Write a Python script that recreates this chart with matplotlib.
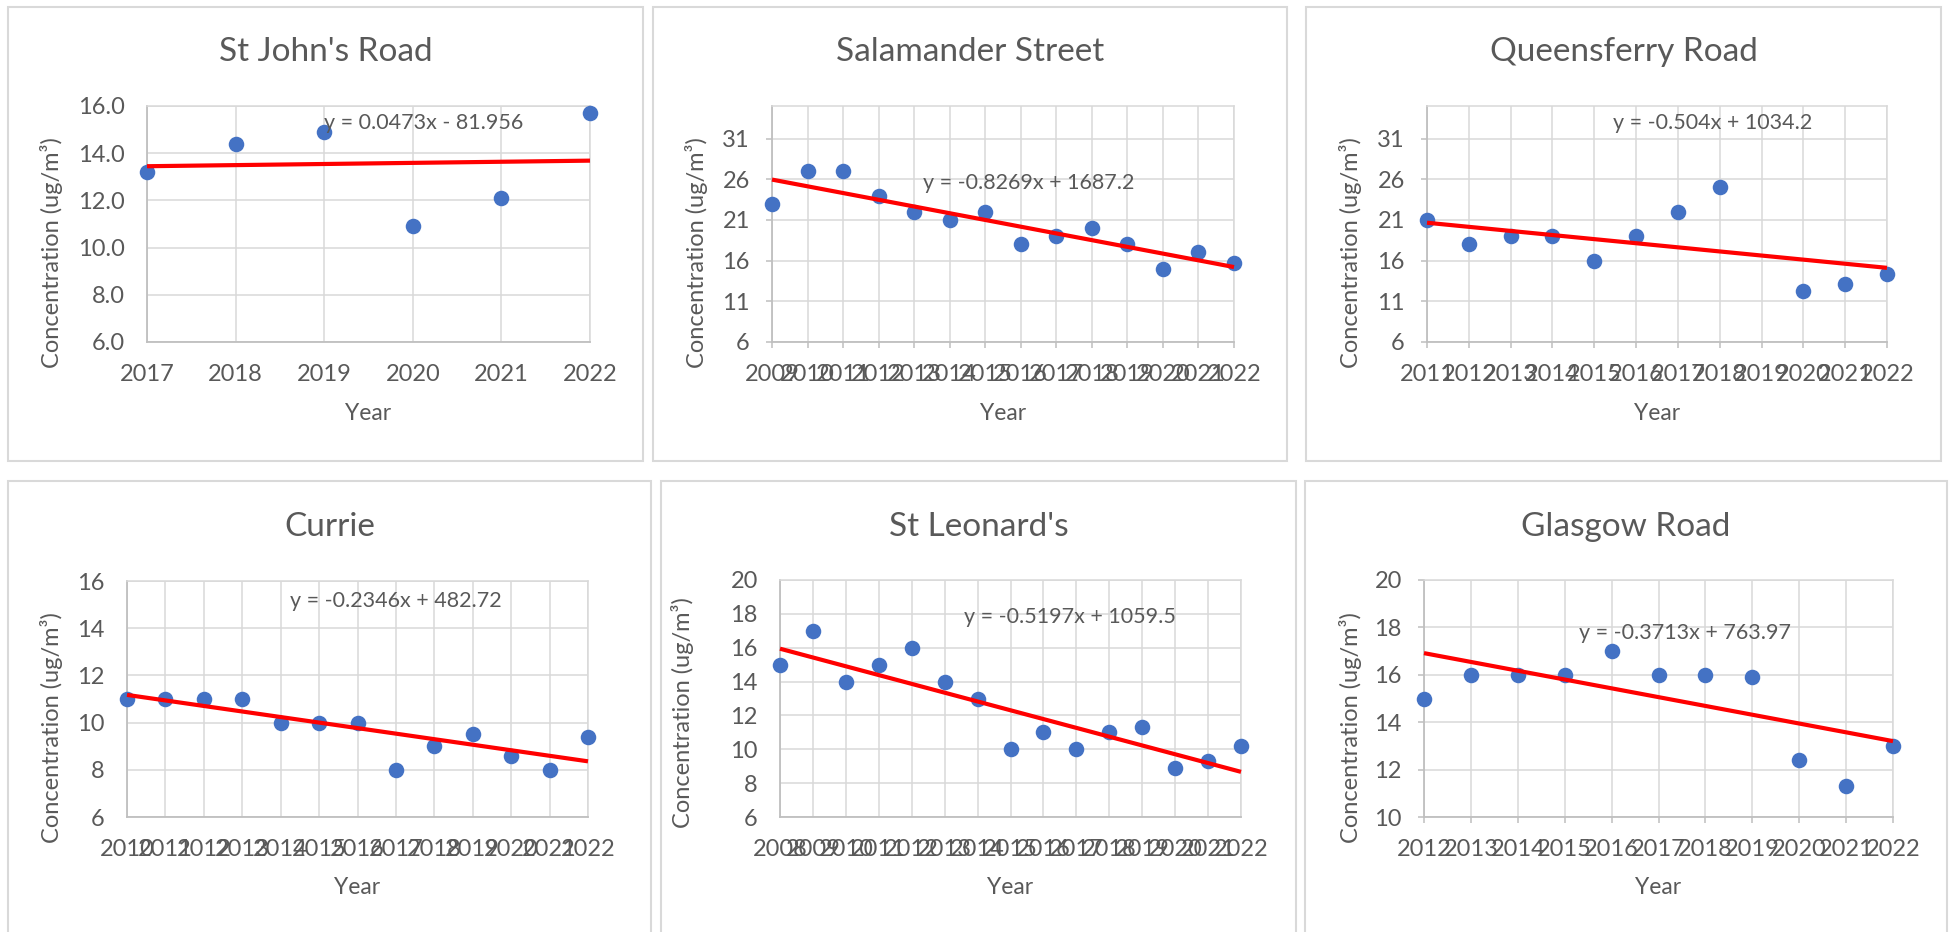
"""
爱丁堡各监测点 NO2 年均浓度趋势（Excel 风格六宫格）
"""

import matplotlib
matplotlib.use("Agg")
import matplotlib.pyplot as plt
import matplotlib.ticker as mticker
from matplotlib.patches import Rectangle
import numpy as np

plt.rcParams["font.family"] = ["Lato", "DejaVu Sans"]

W, H = 1952, 932
TEXT_C = "#595959"
GRID_C = "#D9D9D9"
AXIS_C = "#BFBFBF"
DOT_C = "#4472C4"

# ──────────────────────────────────────────────
# 数据
# ──────────────────────────────────────────────
titles = ["St John's Road", "Salamander Street", "Queensferry Road",
          "Currie", "St Leonard's", "Glasgow Road"]

st_johns_years = [2017, 2018, 2019, 2020, 2021, 2022]
st_johns_vals = [13.2, 14.4, 14.9, 10.9, 12.1, 15.7]

salamander_years = [2009, 2010, 2011, 2012, 2013, 2014, 2015, 2016, 2017, 2018, 2019, 2020, 2021, 2022]
salamander_vals = [23.0, 27.0, 27.0, 24.0, 22.0, 21.0, 22.0, 18.0, 19.0, 20.0, 18.0, 15.0, 17.0, 15.7]

queensferry_years = [2011, 2012, 2013, 2014, 2015, 2016, 2017, 2018, 2020, 2021, 2022]
queensferry_vals = [21.0, 18.0, 19.0, 19.0, 16.0, 19.0, 22.0, 25.0, 12.3, 13.1, 14.4]

currie_years = [2010, 2011, 2012, 2013, 2014, 2015, 2016, 2017, 2018, 2019, 2020, 2021, 2022]
currie_vals = [11.0, 11.0, 11.0, 11.0, 10.0, 10.0, 10.0, 8.0, 9.0, 9.5, 8.6, 8.0, 9.4]

st_leonards_years = [2008, 2009, 2010, 2011, 2012, 2013, 2014, 2015, 2016, 2017, 2018, 2019, 2020, 2021, 2022]
st_leonards_vals = [15.0, 17.0, 14.0, 15.0, 16.0, 14.0, 13.0, 10.0, 11.0, 10.0, 11.0, 11.3, 8.9, 9.3, 10.2]

glasgow_years = [2012, 2013, 2014, 2015, 2016, 2017, 2018, 2019, 2020, 2021, 2022]
glasgow_vals = [15.0, 16.0, 16.0, 16.0, 17.0, 16.0, 16.0, 15.9, 12.4, 11.3, 13.0]

# Excel 线性趋势线系数
trend_slopes = [0.0473, -0.8269, -0.504, -0.2346, -0.5197, -0.3713]
trend_intercepts = [-81.956, 1687.2, 1034.2, 482.72, 1059.5, 763.97]
trend_labels = ["y = 0.0473x - 81.956", "y = -0.8269x + 1687.2", "y = -0.504x + 1034.2",
                "y = -0.2346x + 482.72", "y = -0.5197x + 1059.5", "y = -0.3713x + 763.97"]

# y 轴范围与刻度
y_limits = [(6, 16), (6, 35), (6, 35), (6, 16), (6, 20), (10, 20)]
y_steps = [2, 5, 5, 2, 2, 2]
y_formats = ["%.1f", "%d", "%d", "%d", "%d", "%d"]

series = [
    (st_johns_years, st_johns_vals),
    (salamander_years, salamander_vals),
    (queensferry_years, queensferry_vals),
    (currie_years, currie_vals),
    (st_leonards_years, st_leonards_vals),
    (glasgow_years, glasgow_vals),
]

# ──────────────────────────────────────────────
# 版面（像素坐标，原点左上）
# ──────────────────────────────────────────────
boxes = [(8, 7, 643, 461), (653, 7, 1287, 461), (1306, 7, 1941, 461),
         (8, 481, 651, 945), (661, 481, 1296, 945), (1305, 481, 1947, 945)]
plots = [(147, 106, 590, 342), (772, 106, 1234, 342), (1427, 106, 1887, 342),
         (127, 581, 588, 817), (780, 580, 1241, 817), (1424, 580, 1893, 817)]
title_y = [52, 52, 52, 527, 527, 527]
xlabel_y = [413, 413, 413, 887, 887, 887]
ylabel_xy = [(52, 253), (696, 253), (1350, 253), (52, 728), (683, 713), (1350, 728)]
eq_pos = [(2019.0, 15.3), (2013.25, 25.5), (2015.45, 32.9),
          (2014.25, 15.15), (2013.6, 17.8), (2015.3, 17.75)]
has_ticks = [False, True, True, False, False, True]


def fx(x):
    return x / W


def fy(y):
    return 1 - y / H


fig = plt.figure(figsize=(W / 100, H / 100), dpi=100)
fig.patch.set_facecolor("white")

for i in range(6):
    x0, y0, x1, y1 = boxes[i]
    fig.patches.append(Rectangle((fx(x0), fy(y1)), (x1 - x0) / W, (y1 - y0) / H,
                                 transform=fig.transFigure, fill=False,
                                 edgecolor=GRID_C, linewidth=1.5))

    l, t, r, b = plots[i]
    ax = fig.add_axes([fx(l), fy(b), (r - l) / W, (b - t) / H])
    years, vals = series[i]
    x_first, x_last = years[0], years[-1]

    ax.set_xlim(x_first, x_last)
    ax.set_ylim(*y_limits[i])
    ax.set_xticks(np.arange(x_first, x_last + 1))
    ax.xaxis.set_major_formatter(mticker.FormatStrFormatter("%d"))
    lo, hi = y_limits[i]
    ax.set_yticks(np.arange(lo, hi + 0.01, y_steps[i]))
    ax.yaxis.set_major_formatter(mticker.FormatStrFormatter(y_formats[i]))

    ax.grid(True, color=GRID_C, linewidth=1.1)
    ax.set_axisbelow(True)
    for side in ["top", "right"]:
        ax.spines[side].set_color(GRID_C)
        ax.spines[side].set_linewidth(1.1)
    for side in ["left", "bottom"]:
        ax.spines[side].set_color(AXIS_C)
        ax.spines[side].set_linewidth(1.3)

    tick_len = 4.5 if has_ticks[i] else 0
    ax.tick_params(axis="both", length=tick_len, width=1.1, color=AXIS_C,
                   labelcolor=TEXT_C, labelsize=17, pad=16 - tick_len)

    # 散点 + 趋势线
    ax.scatter(years, vals, s=125, color=DOT_C, zorder=3, clip_on=False, linewidths=0)
    xs = np.array([x_first, x_last], dtype=float)
    ax.plot(xs, trend_slopes[i] * xs + trend_intercepts[i], color="#FF0000",
            linewidth=3.0, zorder=4, clip_on=False, solid_capstyle="butt")

    ax.text(eq_pos[i][0], eq_pos[i][1], trend_labels[i], fontsize=15.5,
            color=TEXT_C, ha="left", va="center", zorder=5)

    # 标题、坐标轴标题
    fig.text(fx((x0 + x1) / 2), fy(title_y[i]), titles[i],
             fontsize=24, color=TEXT_C, ha="center", va="center")
    fig.text(fx((l + r) / 2), fy(xlabel_y[i]), "Year", fontsize=16.5,
             color=TEXT_C, ha="center", va="center")
    fig.text(fx(ylabel_xy[i][0]), fy(ylabel_xy[i][1]), "Concentration (ug/m³)",
             fontsize=17, color=TEXT_C, ha="center", va="center", rotation=90)

fig.savefig("out.png", dpi=100, facecolor="white")
